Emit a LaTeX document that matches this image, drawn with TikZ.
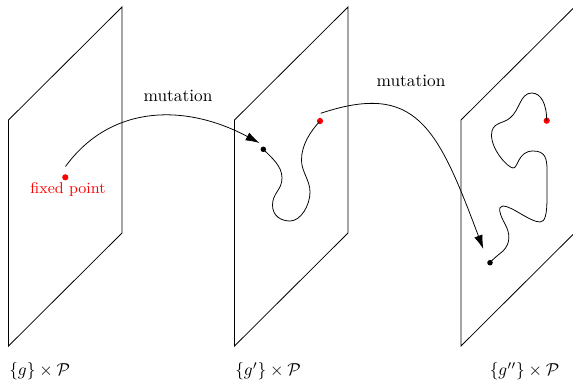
\documentclass[tikz,border=0pt]{standalone}
\usetikzlibrary{arrows.meta}
\begin{document}
\begin{tikzpicture}[x=0.578pt,y=-0.578pt,
  plane/.style={draw,line width=0.45pt},
  reddot/.style={circle,fill=red,inner sep=0pt,minimum size=3.6pt},
  blackdot/.style={circle,fill=black,inner sep=0pt,minimum size=3.2pt},
  mut/.style={-{Latex[length=8pt,width=5pt]},line width=0.45pt},
  wig/.style={line width=0.45pt},
  lbl/.style={inner sep=0pt,anchor=west}]
\useasboundingbox (0,0) rectangle (573,381);
\begin{scope}
\clip (0,0) rectangle (573,381);
% planes
\draw[plane] (8.5,346) -- (8.5,120) -- (122,7) -- (122,233) -- cycle;
\draw[plane] (234.5,346) -- (234.5,120) -- (348,7) -- (348,233) -- cycle;
\draw[plane] (461,346) -- (461,120) -- (574.5,7) -- (574.5,233) -- cycle;
\end{scope}
% dots
\node[reddot] (fp) at (65.3,177.3) {};
\node[blackdot] (b1) at (263.3,149.3) {};
\node[reddot] (r1) at (320,121) {};
\node[blackdot] (b2) at (490,262.7) {};
\node[reddot] (r2) at (546.7,120.7) {};
% texts
\node[red,font=\small] (fpl) at (68,190) {fixed point};
\node (m1) at (178,96) {mutation};
\node (m2) at (411,81) {mutation};
\node[lbl] (l1) at (9,371) {$\{g\}\times\mathcal{P}$};
\node[lbl] (l2) at (235,371) {$\{g'\}\times\mathcal{P}$};
\node[lbl] (l3) at (489.5,371) {$\{g''\}\times\mathcal{P}$};
% connector ends
\coordinate (a1s) at (65.5,166.5);
\coordinate (a1e) at (259.5,143);
\coordinate (a2s) at (320.7,113.3);
\coordinate (a2e) at (483.3,249);
% mutation arrows
\draw[mut] (a1s) .. controls (110,105.2) and (184.2,102.7) .. (a1e);
\draw[mut] (a2s) .. controls (416,81.5) and (437.5,126.8) .. (a2e);
% wiggly paths
\draw[wig] (b1.center) .. controls (272,158) and (282,166) .. (282,178)
  .. controls (282,190) and (272.5,193) .. (272.5,205)
  .. controls (272.5,216) and (281,221) .. (290,221)
  .. controls (301,221) and (310,205) .. (310,192)
  .. controls (310,180) and (301.5,172) .. (301.5,160)
  .. controls (301.5,145) and (310,132) .. (r1.center);
\draw[wig] (r2.center) .. controls (546.7,104) and (541,93) .. (531.7,93)
  .. controls (520,93) and (520,110) .. (510,118)
  .. controls (503,124) and (491.5,122) .. (491.5,135)
  .. controls (491.5,150) and (508,168) .. (513.3,168)
  .. controls (518,168) and (518,151) .. (533,151)
  .. controls (545,151) and (547,158) .. (547,170)
  -- (547,197)
  .. controls (547,215) and (545,222) .. (540,222)
  .. controls (530,222) and (512,206) .. (503,206)
  .. controls (497,206) and (500,215) .. (505,224)
  .. controls (510,233) and (511,243) .. (503,251)
  .. controls (497,256) and (493,259) .. (b2.center);
\end{tikzpicture}
\end{document}
